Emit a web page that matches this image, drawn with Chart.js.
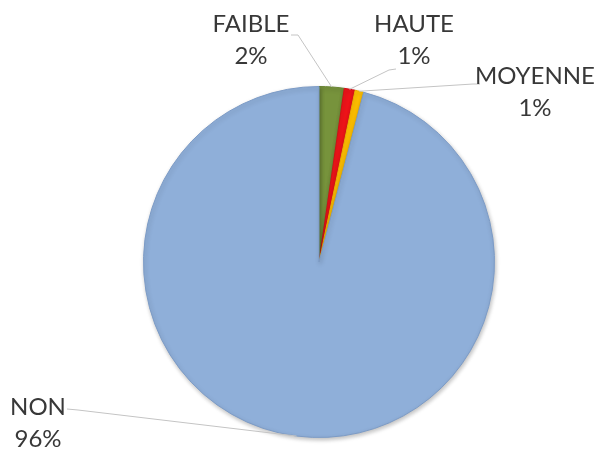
<!DOCTYPE html>
<html>
<head>
<meta charset="utf-8">
<script src="https://cdn.jsdelivr.net/npm/chart.js@4/dist/chart.umd.min.js"></script>
<style>
  body { margin: 0; background: #ffffff; }
  #wrap { width: 599px; height: 450px; }
</style>
</head>
<body>
<div id="wrap"><canvas id="pieChart" width="599" height="450"></canvas></div>
<script>
// Data
const categories = ["FAIBLE", "HAUTE", "MOYENNE", "NON"];
const values = [2.3, 1.0, 0.8, 95.9];
const percentLabels = ["2%", "1%", "1%", "96%"];

// Styles
const sliceColors = ["#77933C", "#F0141A", "#FFC000", "#8FAFD9"];
const sliceBorders = ["#6A8534", "#D01015", "#E8AE00", "#7C9BC6"];

// Label layout (text centre x, first baseline, hook start, hook end)
const labelLayout = [
  { x: 251, y: 32, sx: 291, sy: 35, ex: 298, ey: 35 },
  { x: 414, y: 32, sx: 396, sy: 69, ex: 389, ey: 70 },
  { x: 535, y: 84, sx: 480, sy: 84, ex: 473, ey: 84 },
  { x: 38, y: 415, sx: 67, sy: 409, ex: 78, ey: 410 },
];

// Shadow behind the pie
const shadowPlugin = {
  id: "pieShadow",
  beforeDatasetsDraw(chart) {
    const ctx = chart.ctx;
    ctx.save();
    ctx.shadowColor = "rgba(0, 0, 0, 0.25)";
    ctx.shadowBlur = 4;
    ctx.shadowOffsetX = 1;
    ctx.shadowOffsetY = 2;
  },
  afterDatasetsDraw(chart) {
    chart.ctx.restore();
  },
};

// Outside labels with leader lines
const outsideLabels = {
  id: "outsideLabels",
  afterDatasetsDraw(chart) {
    const ctx = chart.ctx;
    const arcs = chart.getDatasetMeta(0).data;
    ctx.save();
    arcs.forEach((arc, i) => {
      const p = arc.getProps(["x", "y", "startAngle", "endAngle", "outerRadius"], true);
      const mid = (p.startAngle + p.endAngle) / 2;
      const ax = p.x + Math.cos(mid) * p.outerRadius;
      const ay = p.y + Math.sin(mid) * p.outerRadius;
      const lay = labelLayout[i];

      ctx.strokeStyle = "#C4C4C4";
      ctx.lineWidth = 1;
      ctx.beginPath();
      ctx.moveTo(lay.sx, lay.sy);
      ctx.lineTo(lay.ex, lay.ey);
      ctx.lineTo(ax, ay);
      ctx.stroke();

      ctx.fillStyle = "#383838";
      ctx.font = "24px Lato";
      ctx.textAlign = "center";
      ctx.textBaseline = "alphabetic";
      ctx.fillText(categories[i], lay.x, lay.y);
      ctx.fillText(percentLabels[i], lay.x, lay.y + 32);
    });
    ctx.restore();
  },
};

new Chart(document.getElementById("pieChart"), {
  type: "pie",
  data: {
    labels: categories,
    datasets: [
      {
        data: values,
        backgroundColor: sliceColors,
        borderColor: sliceBorders,
        borderWidth: 1,
      },
    ],
  },
  options: {
    responsive: false,
    animation: false,
    layout: {
      padding: { top: 86, bottom: 12, left: 143, right: 104 },
    },
    plugins: {
      legend: { display: false },
      tooltip: { enabled: false },
    },
  },
  plugins: [shadowPlugin, outsideLabels],
});
</script>
</body>
</html>
